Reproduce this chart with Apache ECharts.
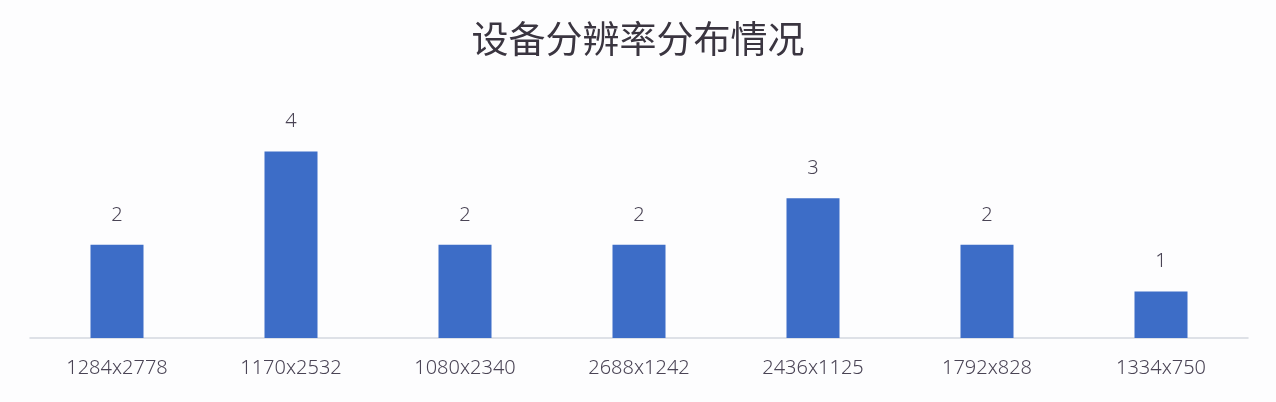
<!DOCTYPE html>
<html>
<head>
<meta charset="utf-8">
<script src="https://cdn.jsdelivr.net/npm/echarts@6/dist/echarts.min.js"></script>
<style>
  html, body { margin: 0; padding: 0; background: #fdfdfe; }
  #main { width: 1276px; height: 402px; }
</style>
</head>
<body>
<div id="main"></div>
<script>
// 分辨率类别
var resolutions = ['1284x2778', '1170x2532', '1080x2340', '2688x1242', '2436x1125', '1792x828', '1334x750'];
// 设备数量
var deviceCounts = [2, 4, 2, 2, 3, 2, 1];

var chart = echarts.init(document.getElementById('main'));
chart.setOption({
  backgroundColor: '#fdfdfe',
  title: {
    text: '设备分辨率分布情况',
    left: 'center',
    top: 15,
    textStyle: {
      fontFamily: 'Noto Sans CJK SC',
      fontSize: 37,
      fontWeight: 'normal',
      color: '#3a3540'
    }
  },
  grid: {
    left: 30,
    right: 28,
    top: 105,
    bottom: 64
  },
  xAxis: {
    type: 'category',
    data: resolutions,
    axisTick: { show: false },
    axisLine: { lineStyle: { color: '#d3d7df', width: 1.5 } },
    axisLabel: {
      margin: 20,
      fontFamily: 'Noto Sans',
      fontSize: 20,
      fontWeight: 300,
      color: '#4a4455'
    }
  },
  yAxis: {
    type: 'value',
    min: 0,
    max: 5,
    show: false,
    splitLine: { show: false }
  },
  series: [{
    type: 'bar',
    data: deviceCounts,
    barWidth: 53,
    itemStyle: { color: '#3d6dc7' },
    label: {
      show: true,
      position: 'top',
      distance: 20,
      fontFamily: 'Noto Sans',
      fontSize: 20,
      fontWeight: 300,
      color: '#4a4455'
    }
  }]
});
</script>
</body>
</html>
